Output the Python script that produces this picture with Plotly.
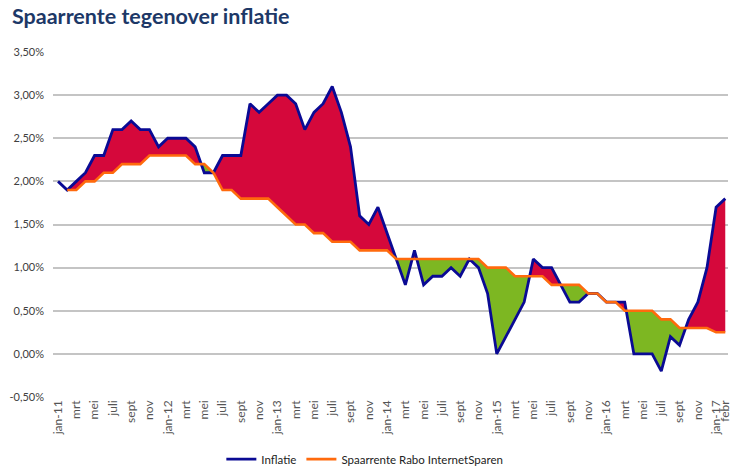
import plotly.graph_objects as go

# ---- data -------------------------------------------------------------
maanden = [
    "jan-11", "feb", "mrt", "apr", "mei", "jun", "juli", "aug", "sept", "okt", "nov", "dec",
    "jan-12", "feb", "mrt", "apr", "mei", "jun", "juli", "aug", "sept", "okt", "nov", "dec",
    "jan-13", "feb", "mrt", "apr", "mei", "jun", "juli", "aug", "sept", "okt", "nov", "dec",
    "jan-14", "feb", "mrt", "apr", "mei", "jun", "juli", "aug", "sept", "okt", "nov", "dec",
    "jan-15", "feb", "mrt", "apr", "mei", "jun", "juli", "aug", "sept", "okt", "nov", "dec",
    "jan-16", "feb", "mrt", "apr", "mei", "jun", "juli", "aug", "sept", "okt", "nov", "dec",
    "jan-17", "febr",
]

inflatie = [
    2.0, 1.9, 2.0, 2.1, 2.3, 2.3, 2.6, 2.6, 2.7, 2.6, 2.6, 2.4,
    2.5, 2.5, 2.5, 2.4, 2.1, 2.1, 2.3, 2.3, 2.3, 2.9, 2.8, 2.9,
    3.0, 3.0, 2.9, 2.6, 2.8, 2.9, 3.1, 2.8, 2.4, 1.6, 1.5, 1.7,
    1.4, 1.1, 0.8, 1.2, 0.8, 0.9, 0.9, 1.0, 0.9, 1.1, 1.0, 0.7,
    0.0, 0.2, 0.4, 0.6, 1.1, 1.0, 1.0, 0.8, 0.6, 0.6, 0.7, 0.7,
    0.6, 0.6, 0.6, 0.0, 0.0, 0.0, -0.2, 0.2, 0.1, 0.4, 0.6, 1.0,
    1.7, 1.8,
]

spaarrente = [
    None, 1.9, 1.9, 2.0, 2.0, 2.1, 2.1, 2.2, 2.2, 2.2, 2.3, 2.3,
    2.3, 2.3, 2.3, 2.2, 2.2, 2.1, 1.9, 1.9, 1.8, 1.8, 1.8, 1.8,
    1.7, 1.6, 1.5, 1.5, 1.4, 1.4, 1.3, 1.3, 1.3, 1.2, 1.2, 1.2,
    1.2, 1.1, 1.1, 1.1, 1.1, 1.1, 1.1, 1.1, 1.1, 1.1, 1.1, 1.0,
    1.0, 1.0, 0.9, 0.9, 0.9, 0.9, 0.8, 0.8, 0.8, 0.8, 0.7, 0.7,
    0.6, 0.6, 0.5, 0.5, 0.5, 0.5, 0.4, 0.4, 0.3, 0.3, 0.3, 0.3,
    0.25, 0.25,
]

y_ticks = [-0.5, 0.0, 0.5, 1.0, 1.5, 2.0, 2.5, 3.0, 3.5]
y_ticklabels = ["-0,50%", "0,00%", "0,50%", "1,00%", "1,50%", "2,00%", "2,50%", "3,00%", "3,50%"]

# ---- derived ----------------------------------------------------------
n = len(maanden)
x = list(range(n))
tickvals = [i for i in range(n) if i % 2 == 0 or i == n - 1]
ticktext = [maanden[i] for i in tickvals]

# fill geometry between the two lines, with crossing points inserted
xs, bs, os_ = [], [], []
first = next(i for i, v in enumerate(spaarrente) if v is not None)
xs.append(first); bs.append(inflatie[first]); os_.append(spaarrente[first])
for i in range(first, n - 1):
    b0, b1 = inflatie[i], inflatie[i + 1]
    o0, o1 = spaarrente[i], spaarrente[i + 1]
    d0, d1 = b0 - o0, b1 - o1
    if d0 * d1 < 0:
        t = d0 / (d0 - d1)
        yc = o0 + t * (o1 - o0)
        xs.append(i + t); bs.append(yc); os_.append(yc)
    xs.append(i + 1); bs.append(b1); os_.append(o1)
top = [max(b, o) for b, o in zip(bs, os_)]
bot = [min(b, o) for b, o in zip(bs, os_)]

RED = "#D5083B"
GREEN = "#7DB722"
BLUE = "#0A0A94"
ORANGE = "#FF6A0D"

fig = go.Figure()
fig.add_trace(go.Scatter(x=xs, y=os_, mode="lines", line=dict(width=0), showlegend=False, hoverinfo="skip"))
fig.add_trace(go.Scatter(x=xs, y=top, mode="lines", line=dict(width=0), fill="tonexty",
                         fillcolor=RED, showlegend=False, hoverinfo="skip"))
fig.add_trace(go.Scatter(x=xs, y=os_, mode="lines", line=dict(width=0), showlegend=False, hoverinfo="skip"))
fig.add_trace(go.Scatter(x=xs, y=bot, mode="lines", line=dict(width=0), fill="tonexty",
                         fillcolor=GREEN, showlegend=False, hoverinfo="skip"))
fig.add_trace(go.Scatter(x=x, y=inflatie, mode="lines", name="Inflatie",
                         line=dict(color=BLUE, width=2.8)))
fig.add_trace(go.Scatter(x=x, y=spaarrente, mode="lines", name="Spaarrente Rabo InternetSparen",
                         line=dict(color=ORANGE, width=2.6)))

FONT = "Lato"
fig.update_layout(
    width=733, height=475,
    margin=dict(l=53, r=5, t=52, b=78, autoexpand=False),
    paper_bgcolor="white", plot_bgcolor="white",
    font=dict(family=FONT, size=11, color="#404040"),
    title=dict(text="<b>Spaarrente tegenover inflatie</b>", x=12 / 733, xref="container", xanchor="left",
               y=1 - 16 / 475, yref="container", yanchor="middle",
               font=dict(family=FONT, size=21.5, color="#1D3867")),
    showlegend=True,
    legend=dict(orientation="h", x=0.462, xanchor="center", y=-0.18, yanchor="middle",
                font=dict(family=FONT, size=11.5, color="#222222"), itemwidth=30, traceorder="normal"),
)
fig.update_xaxes(range=[-0.55, 73.3], tickmode="array", tickvals=tickvals, ticktext=ticktext,
                 tickangle=-90, showgrid=False, zeroline=False, showline=False, ticks="",
                 automargin=False, ticklabeloverflow="allow",
                 tickfont=dict(family=FONT, size=12, color="#555555"))
fig.update_yaxes(range=[-0.5, 3.5], tickmode="array", tickvals=y_ticks, ticktext=y_ticklabels,
                 showgrid=True, gridcolor="#C4C4C4", gridwidth=1.6, zeroline=False, showline=False,
                 automargin=False, ticks="", ticklabelstandoff=8,
                 tickfont=dict(family=FONT, size=11, color="#404040"))

fig.write_html("out.html", config={"displayModeBar": False},
               post_script="document.body.style.margin='0';")
